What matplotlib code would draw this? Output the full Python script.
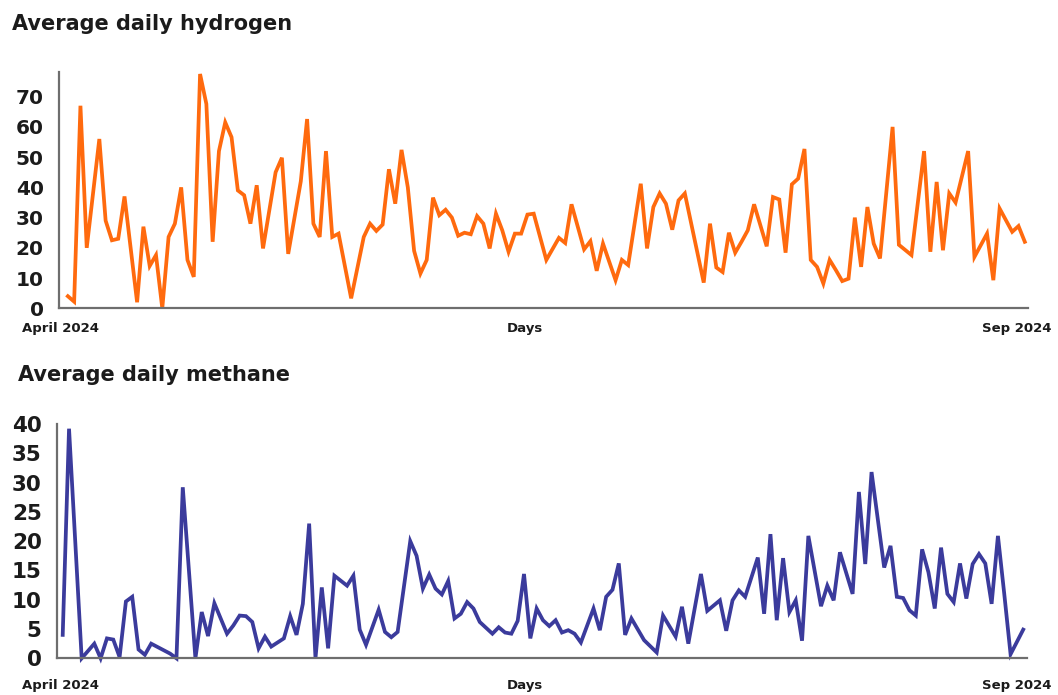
import matplotlib
matplotlib.use("Agg")
import matplotlib.pyplot as plt

# day index (0 = 1 April 2024) and daily average
h2_day = [0, 1, 2, 3, 5, 6, 7, 8, 9, 11, 12, 13, 14, 15, 16, 17, 18, 19, 20, 21,
          22, 23, 24, 25, 26, 27, 28, 29, 30, 31, 33, 34, 35, 37, 38, 39, 40, 41, 42, 43,
          45, 47, 48, 49, 50, 51, 52, 53, 54, 55, 56, 57, 58, 59, 60, 61, 62, 63, 64, 65,
          66, 67, 68, 69, 70, 71, 72, 73, 74, 76, 78, 79, 80, 82, 83, 84, 85, 87, 88, 89,
          91, 92, 93, 94, 95, 96, 97, 98, 101, 102, 103, 104, 105, 106, 107, 108, 109, 111,
          112, 113, 114, 115, 116, 117, 118, 119, 120, 121, 122, 123, 124, 125, 126, 127,
          128, 129, 131, 132, 134, 136, 137, 138, 139, 140, 141, 143, 144, 146, 147, 148,
          150, 151, 152]
h2_val = [4, 2.2, 67, 20, 56, 29, 22.5, 23, 37, 2, 27, 14, 17.6, 0, 23.6, 28, 40, 16, 10.4, 77.5,
          67.6, 22, 52, 61.5, 56.6, 39, 37.4, 28, 40.7, 19.8, 45, 49.8, 18, 42, 62.6, 28, 23.6, 52, 23.6, 24.7,
          3.3, 23.6, 28, 25.6, 27.7, 46, 34.6, 52.4, 40, 19, 11.5, 16, 36.6, 30.8, 32.6, 30, 24, 25, 24.5, 30.5,
          28, 19.8, 31.3, 25.8, 18.7, 24.7, 24.7, 31, 31.3, 16, 23.3, 21.6, 34.4, 19.5, 22.2, 12.4, 21.4, 9.3, 16, 14.3,
          41.2, 19.8, 33.5, 38, 34.6, 26, 35.7, 38, 8.5, 28, 13.5, 12, 25, 18.4, 22, 25.8, 34.4, 20.5,
          36.8, 36, 18.4, 41, 42.9, 52.7, 16, 13.7, 8.2, 16, 12.6, 9, 9.8, 30, 13.7, 33.5,
          21.4, 16.5, 60, 21, 17.6, 52, 18.7, 41.8, 19.2, 38, 35, 52, 17, 24.7, 9.3, 33,
          25.3, 27.2, 22]

ch4_day = [0, 1, 3, 5, 6, 7, 8, 9, 10, 11, 12, 13, 14, 17, 18, 19, 21, 22, 23, 24,
           25, 26, 27, 28, 29, 30, 31, 32, 33, 34, 35, 36, 37, 38, 39, 40, 41, 42, 43, 45,
           46, 47, 48, 50, 51, 52, 53, 55, 56, 57, 58, 59, 60, 61, 62, 63, 64, 65, 66, 68,
           69, 70, 71, 72, 73, 74, 75, 76, 77, 78, 79, 80, 81, 82, 84, 85, 86, 87, 88, 89,
           90, 92, 94, 95, 97, 98, 99, 101, 102, 104, 105, 106, 107, 108, 110, 111, 112, 113,
           114, 115, 116, 117, 118, 120, 121, 122, 123, 125, 126, 127, 128, 130, 131, 132,
           133, 134, 135, 136, 137, 138, 139, 140, 141, 142, 143, 144, 145, 146, 147, 148,
           149, 150, 152]
ch4_val = [4.0, 39.2, 0, 2.5, 0, 3.4, 3.2, 0.2, 9.7, 10.5, 1.5, 0.6, 2.5, 0.8, 0, 29.2, 0, 7.9, 3.8, 9.4,
           6.8, 4.2, 5.6, 7.3, 7.2, 6.2, 1.7, 3.7, 2.0, 2.7, 3.4, 7.2, 4.0, 9.3, 23, 0, 12.1, 1.7, 14.1, 12.4,
           14.1, 4.9, 2.3, 8.3, 4.5, 3.6, 4.5, 20, 17.5, 11.9, 14.3, 11.9, 10.9, 13.2, 6.8, 7.6, 9.6, 8.5, 6.2, 4.2,
           5.3, 4.4, 4.2, 6.4, 14.4, 3.4, 8.5, 6.5, 5.5, 6.5, 4.4, 4.8, 4.2, 2.7, 8.5, 4.8, 10.5, 11.7, 16.2, 4.0,
           6.8, 3.1, 1.0, 7.3, 3.7, 8.8, 2.5, 14.4, 8.1, 9.9, 4.7, 9.9, 11.6, 10.5, 17.2, 7.6, 21.2, 6.5,
           17.1, 7.9, 9.9, 3.0, 20.9, 8.9, 12.4, 9.9, 18.1, 11.0, 28.4, 16.1, 31.8, 15.5, 19.2, 10.5,
           10.3, 8.2, 7.3, 18.6, 14.7, 8.5, 18.9, 11.0, 9.6, 16.2, 10.2, 16.1, 17.8, 16.2, 9.3, 20.9,
           11.0, 0.7, 4.9]

h2_ticks = [0, 10, 20, 30, 40, 50, 60, 70]
ch4_ticks = [0, 5, 10, 15, 20, 25, 30, 35, 40]

INK = "#1b1b1b"
plt.rcParams["font.family"] = ["DejaVu Sans"]

fig = plt.figure(figsize=(10.58, 6.95), dpi=100)


def panel(rect, days, vals, color, ticks, ylim, xlim, tick_size):
    ax = fig.add_axes(rect)
    ax.plot(days, vals, color=color, lw=2.7, solid_joinstyle="miter", clip_on=False)
    ax.set_xlim(*xlim); ax.set_ylim(*ylim)
    ax.set_yticks(ticks); ax.set_xticks([])
    ax.tick_params(axis="y", length=0, pad=11, labelsize=tick_size, labelcolor=INK)
    for lab in ax.get_yticklabels():
        lab.set_fontweight("bold")
    for s in ("top", "right"):
        ax.spines[s].set_visible(False)
    for s in ("left", "bottom"):
        ax.spines[s].set_color("#6e6e6e"); ax.spines[s].set_linewidth(1.6)
    return ax


panel([0.0558, 0.5564, 0.9158, 0.3393], h2_day, h2_val, "#ff6a0e",
      h2_ticks, (0, 78), (-1.4, 152.5), 14.5)
panel([0.0539, 0.0528, 0.9168, 0.3371], ch4_day, ch4_val, "#3b3b9c",
      ch4_ticks, (0, 40), (-0.9, 152.6), 15.5)

fig.text(0.011, 0.966, "Average daily hydrogen", fontsize=15, fontweight="bold",
         color=INK, va="center")
fig.text(0.017, 0.461, "Average daily methane", fontsize=15, fontweight="bold",
         color=INK, va="center")

for y in (0.527, 0.014):
    fig.text(0.021, y, "April 2024", fontsize=9.5, fontweight="bold", color=INK, va="center")
    fig.text(0.496, y, "Days", fontsize=9.5, fontweight="bold", color=INK, va="center", ha="center")
    fig.text(0.9943, y, "Sep 2024", fontsize=9.5, fontweight="bold", color=INK, va="center", ha="right")

fig.savefig("out.png", dpi=100, facecolor="white")
plt.close(fig)
